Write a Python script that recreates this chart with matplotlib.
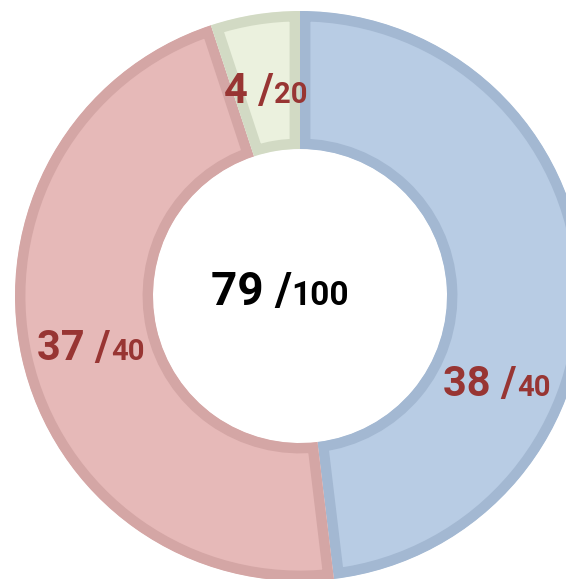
import matplotlib
matplotlib.use("Agg")
import matplotlib.pyplot as plt

# data
categories = ["A", "B", "C"]
scores = [38, 37, 4]
maxima = [40, 40, 20]
total_score = 79
total_max = 100

fills = ["#b8cce4", "#e6b9b8", "#ebf1de"]
edges = ["#a3b8d2", "#d4a6a5", "#d2dac4"]
label_color = "#983533"

W, H = 566, 579
fig = plt.figure(figsize=(W / 100, H / 100), dpi=100)
ax = fig.add_axes([0, 0, 1, 1])

cx, cy = 300, H - 296
R, r_in = 285, 147

wedges, _ = ax.pie(scores, radius=R, center=(cx, cy), startangle=90,
                   counterclock=False,
                   wedgeprops=dict(width=R - r_in, linewidth=15))
for w, fc, ec in zip(wedges, fills, edges):
    w.set_facecolor(fc)
    w.set_edgecolor(ec)
    w.set_clip_path(w)
    w.set_clip_on(True)

ax.set_xlim(0, W)
ax.set_ylim(0, H)
ax.set_aspect("equal")
ax.axis("off")

fig.canvas.draw()
renderer = fig.canvas.get_renderer()


def two_part(x_center, y_base, big, small, big_size, small_size, color):
    t1 = ax.text(0, 0, big, fontsize=big_size, fontweight="bold",
                 family="Roboto", color=color, ha="left", va="baseline")
    t2 = ax.text(0, 0, small, fontsize=small_size, fontweight="bold",
                 family="Roboto", color=color, ha="left", va="baseline")
    b1 = t1.get_window_extent(renderer)
    b2 = t2.get_window_extent(renderer)
    total = b1.width + b2.width
    x0 = x_center - total / 2
    t1.set_position((x0, y_base))
    t2.set_position((x0 + b1.width, y_base))


# label positions (pixel centers, baseline y)
label_pos = [(497, 396), (91, 360), (266, 103)]
for (px, py), s, m in zip(label_pos, scores, maxima):
    two_part(px, H - py, f"{s} /", f"{m}", 30, 21, label_color)

two_part(280, H - 305, f"{total_score} /", f"{total_max}", 33, 24, "black")

fig.savefig("out.png", dpi=100)
